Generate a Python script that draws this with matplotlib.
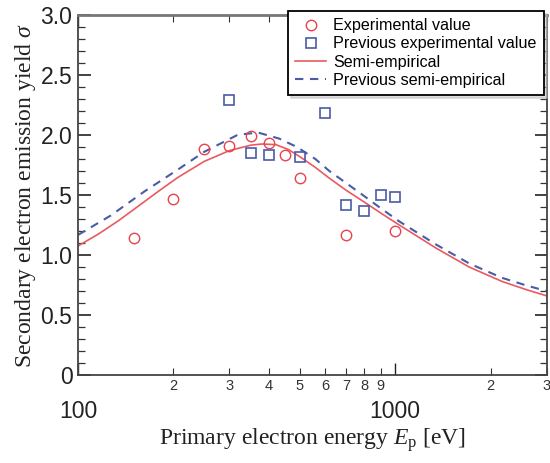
import matplotlib
matplotlib.use("Agg")
import matplotlib.pyplot as plt
from matplotlib.ticker import FixedLocator, FixedFormatter, MultipleLocator

# ---- data ----
exp_E = [150, 200, 250, 300, 350, 400, 450, 500, 700, 1000]
exp_sigma = [1.14, 1.47, 1.88, 1.91, 1.99, 1.93, 1.83, 1.64, 1.17, 1.20]

prev_E = [300, 350, 400, 500, 600, 700, 800, 900, 1000]
prev_sigma = [2.29, 1.85, 1.83, 1.82, 2.18, 1.42, 1.37, 1.50, 1.48]

semi_E = [100, 116, 134, 150, 178, 206, 250, 300, 350, 380, 420, 460, 500, 560,
          620, 700, 800, 900, 1030, 1200, 1340, 1710, 2170, 2600, 3000]
semi_sigma = [1.075, 1.175, 1.285, 1.38, 1.525, 1.645, 1.78, 1.87, 1.915, 1.925,
              1.92, 1.88, 1.82, 1.73, 1.64, 1.54, 1.44, 1.35, 1.25, 1.14, 1.06,
              0.90, 0.78, 0.71, 0.66]

prev_semi_E = [100, 127, 162, 206, 250, 318, 339, 370, 431, 490, 560, 620, 700,
               790, 900, 1030, 1200, 1340, 1710, 2170, 2600, 3000]
prev_semi_sigma = [1.167, 1.33, 1.53, 1.71, 1.86, 2.00, 2.01, 2.02, 1.97, 1.90,
                   1.80, 1.70, 1.60, 1.50, 1.39, 1.28, 1.17, 1.09, 0.93, 0.81,
                   0.745, 0.70]

legend_labels = ["Experimental value", "Previous experimental value",
                 "Semi-empirical", "Previous semi-empirical"]
minor_x_labels = ["2", "3", "4", "5", "6", "7", "8", "9", "2", "3"]
minor_x_vals = [200, 300, 400, 500, 600, 700, 800, 900, 2000, 3000]
y_tick_vals = [0, 0.5, 1.0, 1.5, 2.0, 2.5, 3.0]
y_tick_labels = ["0", "0.5", "1.0", "1.5", "2.0", "2.5", "3.0"]

plt.rcParams['mathtext.fontset'] = 'custom'
plt.rcParams['mathtext.rm'] = 'Liberation Serif'
plt.rcParams['mathtext.it'] = 'Liberation Serif:italic'

red = '#e8434d'
red_line = '#e85a60'
blue = '#4a5ca6'

fig = plt.figure(figsize=(5.5, 4.63), dpi=100)
ax = fig.add_axes([0.1418, 0.190, 0.852, 0.7776])

h_semi, = ax.plot(semi_E, semi_sigma, '-', color=red_line, lw=1.2, zorder=2)
h_psemi, = ax.plot(prev_semi_E, prev_semi_sigma, '--', color=blue, lw=1.5,
                   dashes=(4, 3.2), zorder=2)
h_exp, = ax.plot(exp_E, exp_sigma, 'o', mfc='none', mec=red, mew=1.0, ms=7.5, zorder=3)
h_prev, = ax.plot(prev_E, prev_sigma, 's', mfc='none', mec=blue, mew=1.2, ms=7.5, zorder=3)

ax.set_xscale('log')
ax.set_xlim(100, 3000)
ax.set_ylim(0, 3.0)

# x ticks
ax.xaxis.set_major_locator(FixedLocator([100, 1000]))
ax.xaxis.set_major_formatter(FixedFormatter(["100", "1000"]))
ax.xaxis.set_minor_locator(FixedLocator(minor_x_vals))
ax.xaxis.set_minor_formatter(FixedFormatter(minor_x_labels))
ax.tick_params(axis='x', which='major', direction='in', length=9, width=1,
               labelsize=16.5, pad=18, top=True, colors='#222222')
ax.tick_params(axis='x', which='minor', direction='in', length=5, width=0.8,
               labelsize=10.5, pad=3, top=True, colors='#333333')
for lab in ax.get_xticklabels(which='both'):
    lab.set_fontfamily('Liberation Sans')

# y ticks
ax.yaxis.set_major_locator(FixedLocator(y_tick_vals))
ax.yaxis.set_major_formatter(FixedFormatter(y_tick_labels))
ax.yaxis.set_minor_locator(MultipleLocator(0.1))
ax.tick_params(axis='y', which='major', direction='in', length=9, width=1.2,
               labelsize=16.5, right=True, pad=4, colors='#222222')
ax.tick_params(axis='y', which='minor', direction='in', length=5, width=0.9,
               right=True, colors='#333333')
for lab in ax.get_yticklabels():
    lab.set_fontfamily('Liberation Sans')

for s in ax.spines.values():
    s.set_color('#444444')
    s.set_linewidth(1.3)
ax.spines['top'].set_color('#777777')
ax.spines['top'].set_linewidth(2.0)

ax.set_xlabel(r'Primary electron energy $\mathit{E}_{\rm p}$ [eV]', fontsize=17,
              fontfamily='Liberation Serif', labelpad=2, color='#222222')
ax.set_ylabel(r'Secondary electron emission yield $\sigma$', fontsize=17,
              fontfamily='Liberation Serif', labelpad=2, color='#222222')

leg = fig.legend([h_exp, h_prev, h_semi, h_psemi], legend_labels,
                 loc='upper left', bbox_to_anchor=(288 / 550, 1 - 11 / 463),
                 bbox_transform=fig.transFigure, fancybox=False,
                 shadow={'color': '0.75', 'ox': 2, 'oy': -2},
                 edgecolor='black', framealpha=1,
                 prop={'family': 'Liberation Sans', 'size': 11.6},
                 handlelength=1.9, handletextpad=0.45, borderpad=0.45,
                 labelspacing=0.2, borderaxespad=0.0)
leg.get_frame().set_linewidth(1.3)
leg.set_zorder(5)

fig.savefig('out.png', dpi=100)
